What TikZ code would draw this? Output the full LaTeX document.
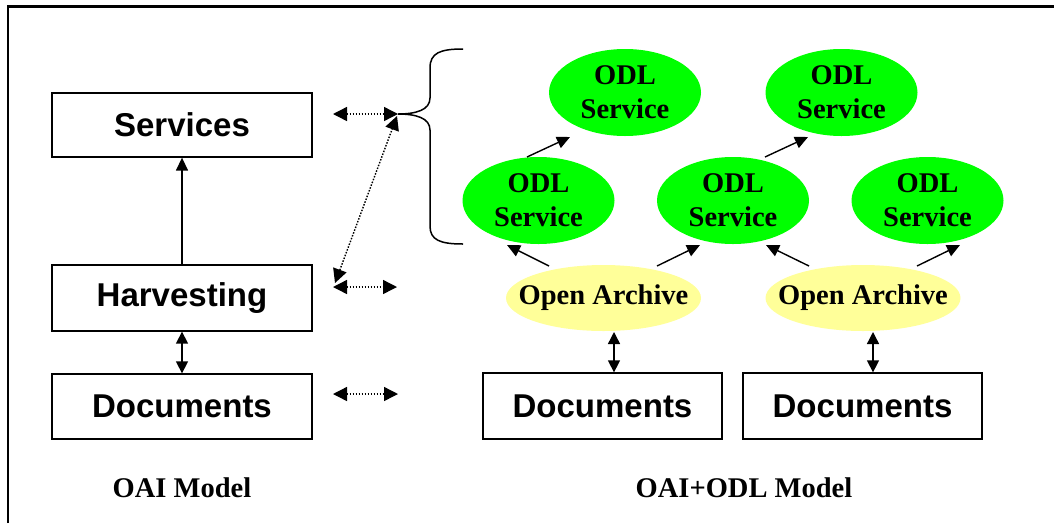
\documentclass[tikz,border=0pt]{standalone}
\usepackage{fontspec}
\setmainfont{Liberation Serif}
\newfontfamily\arialfont{Liberation Sans}
\usetikzlibrary{shapes.geometric,arrows.meta}
\definecolor{odlgreen}{RGB}{0,255,0}
\definecolor{oayellow}{RGB}{255,255,153}
\begin{document}
\begin{tikzpicture}[x=1pt,y=-1pt,
  docbox/.style={draw,line width=1.3pt,minimum height=65pt,inner sep=0pt,
    font=\arialfont\bfseries\fontsize{33}{40}\selectfont},
  odl/.style={ellipse,fill=odlgreen,minimum width=152pt,minimum height=87pt,inner sep=0pt,
    align=center,font=\bfseries\fontsize{28.5}{34}\selectfont},
  oa/.style={ellipse,fill=oayellow,minimum width=195pt,minimum height=66pt,inner sep=0pt},
  oatext/.style={font=\bfseries\fontsize{28.5}{34}\selectfont,inner sep=0pt},
  caption/.style={font=\bfseries\fontsize{28.5}{34}\selectfont,inner sep=0pt,anchor=base},
  arr/.style={line width=1.4pt,-{Triangle[length=13pt,width=12pt]}},
  darr/.style={line width=1.4pt,{Triangle[length=12pt,width=12pt]}-{Triangle[length=12pt,width=12pt]}},
  dotarr/.style={line width=1.4pt,dash pattern=on 1.5pt off 1.5pt,
    {Triangle[length=14pt,width=14pt]}-{Triangle[length=14pt,width=14pt]}},
]
\useasboundingbox (0,0) rectangle (1054,523);
% frame
\draw[line width=2.5pt] (8,523) -- (8,6.5) -- (1054,6.5);

% left model
\node[docbox,minimum width=260pt,minimum height=64pt] (ls) at (182,125) {Services};
\node[docbox,minimum width=260pt,minimum height=66pt] (lh) at (182,298) {Harvesting};
\node[docbox,minimum width=260pt] (ld) at (182,406.5) {Documents};
\node[caption] (cap1) at (182,497) {OAI Model};
\draw[arr] (lh.north) -- (ls.south);
\draw[darr] (lh.south) -- (ld.north);

% right model
\node[odl] (tl) at (625,92.5) {ODL\\Service};
\node[odl] (tr) at (841.5,92.5) {ODL\\Service};
\node[odl] (ml) at (538.5,200.5) {ODL\\Service};
\node[odl] (mc) at (733,200.5) {ODL\\Service};
\node[odl] (mr) at (927.5,200.5) {ODL\\Service};
\node[oa,label={[oatext,name=oa1t]center:Open Archive}] (oa1) at (603.5,298) {};
\node[oa,label={[oatext,name=oa2t]center:Open Archive}] (oa2) at (863,298) {};
\node[docbox,minimum width=239pt,minimum height=66pt] (d1) at (602.5,406) {Documents};
\node[docbox,minimum width=239pt,minimum height=66pt] (d2) at (862.5,406) {Documents};
\node[caption] (cap2) at (744,497) {OAI+ODL Model};

\draw[arr] ([shift={(-11.5,-43.5)}]ml.center) -- ([shift={(-55,44.5)}]tl.center);
\draw[arr] ([shift={(32,-43.5)}]mc.center) -- ([shift={(-33.5,44.5)}]tr.center);
\draw[arr] ([shift={(-54.5,-32)}]oa1.center) -- ([shift={(-31.5,44.5)}]ml.center);
\draw[arr] ([shift={(53.5,-32)}]oa1.center) -- ([shift={(-33,44.5)}]mc.center);
\draw[arr] ([shift={(-54,-32)}]oa2.center) -- ([shift={(33,44.5)}]mc.center);
\draw[arr] ([shift={(54,-32)}]oa2.center) -- ([shift={(32.5,44.5)}]mr.center);
\draw[darr] ([shift={(10.5,34)}]oa1.center) -- ([xshift=11.5pt]d1.north);
\draw[darr] ([shift={(10,34)}]oa2.center) -- ([xshift=10.5pt]d2.north);

% brace
\coordinate (bt) at (398,114);
\draw[line width=1.5pt] (463,49) .. controls (440,49) and (430,53) .. (430,68)
  -- (430,98) .. controls (430,110) and (416,114) .. (bt)
  .. controls (416,114) and (430,118) .. (430,130)
  -- (430,226) .. controls (430,240) and (440,244) .. (463,244);

% dotted links
\coordinate (s1) at (333,114);
\coordinate (h1) at (333,287);
\coordinate (h2) at (397,287);
\coordinate (g1) at (335,283);
\coordinate (g2) at (397,116);
\coordinate (o1) at (333,394);
\coordinate (o2) at (398,394);
\draw[dotarr] (s1) -- (bt);
\draw[dotarr] (g1) -- (g2);
\draw[dotarr] (h1) -- (h2);
\draw[dotarr] (o1) -- (o2);
\end{tikzpicture}
\end{document}
